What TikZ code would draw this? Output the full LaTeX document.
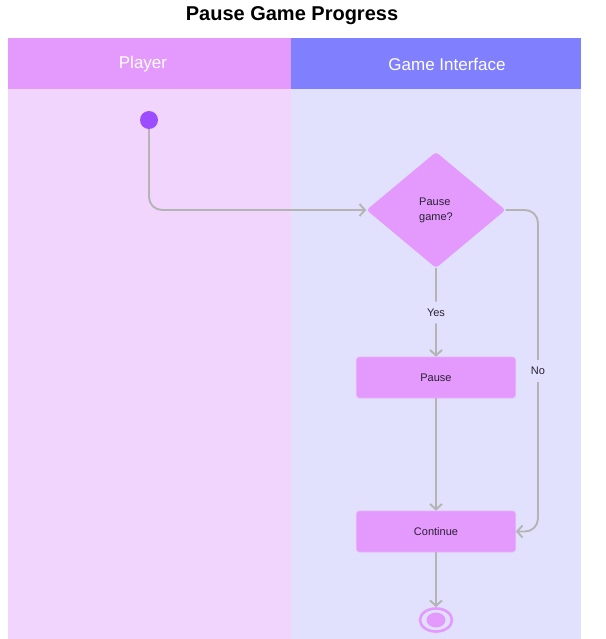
\documentclass[tikz,border=0pt]{standalone}
\usepackage{fontspec}
\setmainfont{Liberation Sans}
\usetikzlibrary{arrows.meta,shapes.geometric}

\definecolor{lanepink}{HTML}{E39AFC}
\definecolor{laneblue}{HTML}{8080FF}
\definecolor{bodypink}{HTML}{F2D5FD}
\definecolor{bodyblue}{HTML}{E1E1FE}
\definecolor{startpurple}{HTML}{9B4DFF}
\definecolor{flowgray}{HTML}{B4B4B4}
\definecolor{inktext}{HTML}{2B1F33}

\tikzset{
  flow/.style={draw=flowgray, line width=1.9pt, rounded corners=13pt,
    -{Straight Barb[length=5.5pt,width=12pt,line width=1.9pt]}},
  actbox/.style={rectangle, rounded corners=3pt, fill=lanepink, draw=lanepink!80!white,
    line width=0.6pt, minimum width=159pt, minimum height=41pt, inner sep=0pt,
    text=inktext, font=\fontsize{11}{13}\selectfont},
  decbox/.style={diamond, rounded corners=3pt, fill=lanepink, minimum width=139pt,
    minimum height=116pt, inner sep=0pt, align=left, text=inktext,
    font=\fontsize{11}{15}\selectfont},
  lbl/.style={fill=bodyblue, inner xsep=3pt, inner ysep=7pt, text=inktext,
    font=\fontsize{11}{13}\selectfont},
  lanehead/.style={text=white, font=\fontsize{17}{20}\selectfont},
  startdot/.style={circle, fill=startpurple, minimum size=18pt, inner sep=0pt},
  stopring/.style={ellipse, draw=lanepink, line width=2.6pt, minimum width=32pt,
    minimum height=23pt, inner sep=0pt},
  stopfill/.style={ellipse, fill=lanepink, minimum width=19pt, minimum height=15pt, inner sep=0pt}
}

\begin{document}
\begin{tikzpicture}[x=1pt,y=-1pt]
  %%%%% LANES %%%%%
  \useasboundingbox (0,0) rectangle (605,639);
  \fill[white] (0,0) rectangle (605,639);

  \fill[bodypink] (8,89) rectangle (291,639);
  \fill[bodyblue] (291,89) rectangle (581,639);
  \fill[lanepink] (8,38) rectangle (291,89);
  \fill[laneblue] (291,38) rectangle (581,89);

  \node[font=\bfseries\fontsize{20}{24}\selectfont] (title) at (292,16) {Pause Game Progress};
  \node[lanehead] (player) at (143,64) {Player};
  \node[lanehead] (gameui) at (447,64) {Game Interface};

  %%%%% NODES %%%%%
  \node[startdot] (start) at (149,120) {};
  \node[decbox] (dec) at (436,210) {Pause\\game?};
  \node[actbox] (pause) at (436,377.5) {Pause};
  \node[actbox] (cont) at (436,531.5) {Continue};
  \node[stopring] (stop) at (436,620) {};
  \node[stopfill] (stopin) at (stop) {};

  %%%%% FLOWS %%%%%
  \draw[flow] (start) |- (dec);
  \draw[flow] (dec.south) -- node[lbl] (yes) {Yes} (pause.north);
  \draw[flow] (pause) -- (cont);

  \coordinate (noside) at (538,371);
  \draw[flow] (dec.east) -| (noside) |- (cont.east);
  \node[lbl] (no) at (noside) {No};

  \draw[flow] (cont) -- (stop);
\end{tikzpicture}
\end{document}
